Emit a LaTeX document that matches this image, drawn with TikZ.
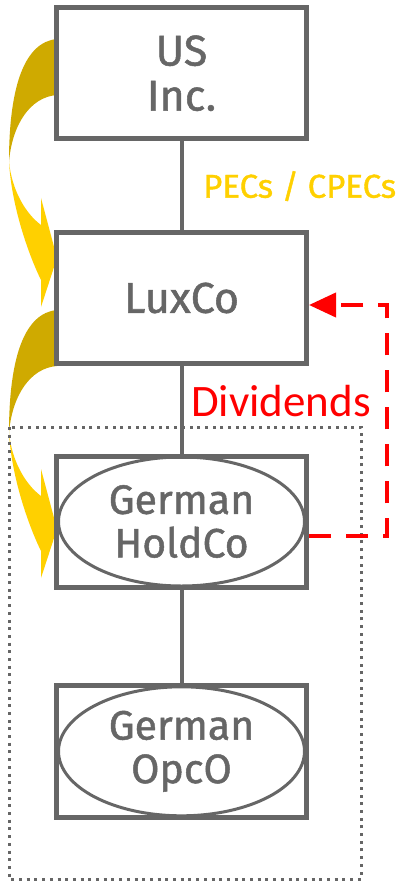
\documentclass[tikz,border=0pt]{standalone}
\usepackage{fontspec}
\setmainfont{Fira Sans}[FakeBold=1.2,BoldFont=*]
\newfontfamily\labelfont{Carlito}
\usetikzlibrary{shapes.geometric,arrows.meta}
\definecolor{boxgray}{HTML}{666666}
\definecolor{eyyellow}{HTML}{FFD000}
\definecolor{eygold}{HTML}{CFAA00}
\definecolor{divred}{HTML}{FF0000}

\tikzset{
  % curved "flow" arrow from one entity down to the next
  bentarrow/.pic={
    \fill[eygold] (57,39) .. controls (25,42) and (9,85) .. (9,162)
                  .. controls (12,125) and (30,97) .. (57,95) -- cycle;
    \fill[eyyellow] (9,162) .. controls (12,190) and (25,213) .. (41,225)
                  -- (41,198) -- (57,258) -- (41,307) -- (41,280)
                  .. controls (32,262) and (12,212) .. (9,162) -- cycle;
  }
}

\begin{document}
\begin{tikzpicture}[x=1pt,y=-1pt,
  entity/.style={draw=boxgray, line width=5pt, minimum width=250pt,
    minimum height=131.5pt, inner sep=0pt, text=boxgray, align=center,
    font=\bfseries\fontsize{43}{45}\selectfont},
  german/.style={ellipse, draw=boxgray, line width=3pt, minimum width=246pt,
    minimum height=129pt, inner sep=0pt, text=boxgray, align=center,
    font=\bfseries\fontsize{41}{43.5}\selectfont},
  link/.style={draw=boxgray, line width=4pt},
  divline/.style={draw=divred, line width=4pt, dash pattern=on 22pt off 15pt,
    -{Triangle[length=27pt,width=24pt]}},
  group/.style={draw=boxgray, line width=3pt, dash pattern=on 3pt off 4.7pt},
]
\useasboundingbox (0,0) rectangle (408,882);

% yellow flow arrows on the left
\pic at (0,0) {bentarrow};
\pic at (0,271) {bentarrow};

% entities
\node[entity] (usinc) at (181.5,73.25) {US\\Inc.};
\node[entity] (luxco) at (181.5,298) {LuxCo};
\node[entity] (holdbox) at (181.5,521.75) {};
\node[german] (holdco) at (181.5,521.5) {German\\HoldCo};
\node[entity] (opcobox) at (181.5,751.5) {};
\node[german] (opco) at (181.5,751.3) {German\\OpcO};

% ownership lines
\draw[link] (usinc) -- (luxco);
\draw[link] (luxco) -- (holdbox);
\draw[link] (holdbox) -- (opcobox);

% German fiscal group
\draw[group] (9,427) rectangle (361,879);

% labels
\node[anchor=base west, inner sep=0pt, text=eyyellow,
  font=\bfseries\fontsize{33}{35}\selectfont] (pecs) at (203,197.7) {PECs / CPECs};
\node[anchor=base west, inner sep=0pt, text=divred,
  font=\labelfont\fontsize{45}{47}\selectfont] (divs) at (191,416.7) {Dividends};

% dividend flow back to LuxCo
\coordinate (divstart) at ([yshift=-14.5pt]holdbox.east);
\coordinate (divend) at ([yshift=-7pt]luxco.east);
\draw[divline] (divstart) -- ++(78,0) |- (divend);
\end{tikzpicture}
\end{document}
